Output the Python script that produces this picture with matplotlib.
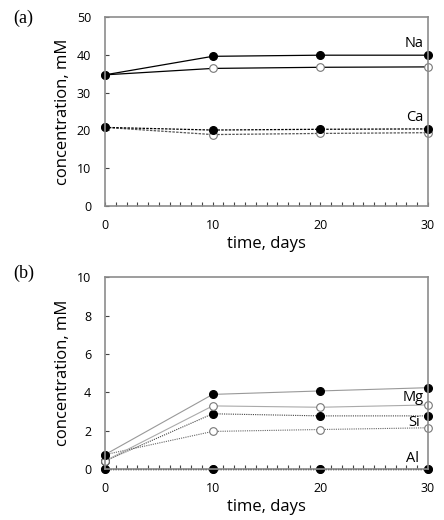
import numpy as np
import matplotlib
matplotlib.use('Agg')
import matplotlib.pyplot as plt
from matplotlib.ticker import MultipleLocator

## data
days = [0, 10, 20, 30]

na_filled = [34.7, 39.6, 39.9, 39.9]
na_open = [34.7, 36.4, 36.7, 36.8]
ca_filled = [20.8, 20.1, 20.3, 20.4]
ca_open = [20.8, 18.9, 19.2, 19.4]

mg_filled = [0.75, 3.89, 4.07, 4.24]
mg_open = [0.42, 3.29, 3.22, 3.34]
si_filled = [0.42, 2.88, 2.77, 2.77]
si_open = [0.75, 1.96, 2.06, 2.15]
al_filled = [0.02, 0.02, 0.02, 0.02]
al_open = [0.02, 0.02, 0.02, 0.02]

plt.rcParams['font.family'] = ['Open Sans', 'DejaVu Sans']

fig = plt.figure(figsize=(4.44, 5.2), dpi=100)
ax1 = fig.add_axes([0.2365, 0.6038, 0.7275, 0.3635])
ax2 = fig.add_axes([0.2365, 0.098, 0.7275, 0.369])

spine_col = '#8c8c8c'


def style_axes(ax, ymax, ystep):
    ax.set_xlim(0, 30)
    ax.set_ylim(0, ymax)
    ax.xaxis.set_major_locator(MultipleLocator(10))
    ax.xaxis.set_minor_locator(MultipleLocator(1))
    ax.yaxis.set_major_locator(MultipleLocator(ystep))
    ax.tick_params(axis='both', which='both', direction='in', length=3,
                   color='#444444', labelsize=9, width=0.8)
    ax.tick_params(axis='x', pad=9)
    ax.tick_params(axis='y', pad=10)
    for s in ax.spines.values():
        s.set_color(spine_col)
        s.set_linewidth(1.2)
    ax.set_xlabel('time, days', fontsize=12, labelpad=3)
    ax.set_ylabel('concentration, mM', fontsize=12, labelpad=4)


mk_f = dict(marker='o', markersize=5.5, markerfacecolor='black', markeredgecolor='black')
mk_o = dict(marker='o', markersize=5.5, markerfacecolor='white', markeredgecolor='#777777',
            markeredgewidth=0.8)

# (a)
ax1.plot(days, na_open, color='black', lw=0.9, clip_on=False, **mk_o)
ax1.plot(days, na_filled, color='black', lw=0.9, clip_on=False, **mk_f)
ax1.plot(days, ca_open, color='#555555', lw=0.9, ls=(0, (2, 1)), clip_on=False, **mk_o)
ax1.plot(days, ca_filled, color='black', lw=0.9, ls=(0, (2, 1)), clip_on=False, **mk_f)
style_axes(ax1, 50, 10)
ax1.text(29.6, 43.1, 'Na', ha='right', va='center', fontsize=10.5)
ax1.text(29.6, 23.3, 'Ca', ha='right', va='center', fontsize=10.5)
fig.text(0.03, 0.965, '(a)', family='Liberation Serif', fontsize=13, va='center')

# (b)
ax2.plot(days, al_open, color='black', lw=0.9, ls=(0, (1, 1)), clip_on=False, **mk_o)
ax2.plot(days, al_filled, color='black', lw=0.9, ls=(0, (1, 1)), clip_on=False, **mk_f)
ax2.plot(days, si_open, color='#666666', lw=0.8, ls=(0, (1, 1)), clip_on=False, **mk_o)
ax2.plot(days, si_filled, color='#444444', lw=0.8, ls=(0, (1, 1)), clip_on=False, **mk_f)
ax2.plot(days, mg_open, color='#aaaaaa', lw=0.8, clip_on=False, **mk_o)
ax2.plot(days, mg_filled, color='#999999', lw=0.8, clip_on=False, **mk_f)
style_axes(ax2, 10, 2)
ax2.text(29.6, 3.75, 'Mg', ha='right', va='center', fontsize=10.5)
ax2.text(29.2, 2.4, 'Si', ha='right', va='center', fontsize=10.5)
ax2.text(29.2, 0.57, 'Al', ha='right', va='center', fontsize=10.5)
fig.text(0.03, 0.475, '(b)', family='Liberation Serif', fontsize=13, va='center')

fig.savefig('out.png', dpi=100)
